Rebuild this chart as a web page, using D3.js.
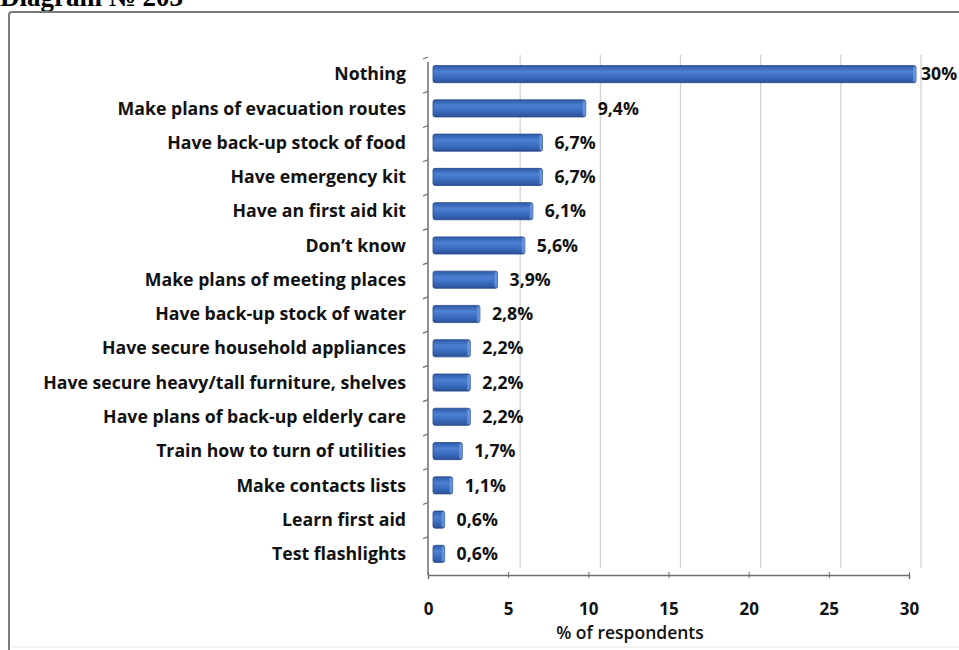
<!DOCTYPE html>
<html>
<head>
<meta charset="utf-8">
<script src="https://cdn.jsdelivr.net/npm/d3@7"></script>
<style>
  body { margin: 0; background: #fff; }
  svg { display: block; }
</style>
</head>
<body>
<svg class="chart" width="959" height="650"></svg>
<script>
const categories = [
  "Nothing",
  "Make plans of evacuation routes",
  "Have back-up stock of food",
  "Have emergency kit",
  "Have an first aid kit",
  "Don\u2019t know",
  "Make plans of meeting places",
  "Have back-up stock of water",
  "Have secure household appliances",
  "Have secure heavy/tall furniture, shelves",
  "Have plans of back-up elderly care",
  "Train how to turn of utilities",
  "Make contacts lists",
  "Learn first aid",
  "Test flashlights"
];
const values = [30, 9.4, 6.7, 6.7, 6.1, 5.6, 3.9, 2.8, 2.2, 2.2, 2.2, 1.7, 1.1, 0.6, 0.6];
const valueLabels = ["30%", "9,4%", "6,7%", "6,7%", "6,1%", "5,6%", "3,9%", "2,8%", "2,2%", "2,2%", "2,2%", "1,7%", "1,1%", "0,6%", "0,6%"];
const xTicks = [0, 5, 10, 15, 20, 25, 30];

const svg = d3.select(".chart");
const font = "'Open Sans', Lato, sans-serif";

// page title, cut at the top like the scan
svg.append("text")
  .attr("x", 0).attr("y", 6)
  .style("font-family", "'Liberation Serif', 'Times New Roman', serif")
  .style("font-weight", "bold")
  .style("font-size", "27px")
  .text("Diagram \u2116 203");

// chart frame
svg.append("rect")
  .attr("x", 9).attr("y", 12)
  .attr("width", 970).attr("height", 660)
  .attr("rx", 3)
  .style("fill", "#fff")
  .style("stroke", "#7a7a7a")
  .style("stroke-width", 2);
svg.append("line")
  .attr("x1", 12).attr("x2", 959).attr("y1", 647).attr("y2", 647)
  .style("stroke", "#e6e6e6");

const x = d3.scaleLinear().domain([0, 30]).range([428, 909]);
const y = d3.scaleBand().domain(categories).range([57, 571]);

const depthX = 12, depthY = -7;
const axisY = 575;

// back wall gridlines
svg.append("g")
  .selectAll("line")
  .data(xTicks.slice(1))
  .enter().append("line")
  .attr("x1", d => x(d) + depthX).attr("x2", d => x(d) + depthX)
  .attr("y1", 55).attr("y2", axisY + depthY)
  .style("stroke", "#cfcfcf")
  .style("stroke-width", 1.2);

// x axis
const xAxis = svg.append("g")
  .attr("transform", `translate(0,${axisY})`)
  .call(d3.axisBottom(x).tickValues(xTicks).tickSize(4).tickPadding(24).tickFormat(d3.format("d")));
xAxis.select(".domain").style("stroke", "#6e6e6e").style("stroke-width", 1.5);
xAxis.selectAll(".tick line").style("stroke", "#6e6e6e").attr("y1", -3).attr("y2", 3);
xAxis.selectAll("text")
  .style("font-family", font)
  .style("font-weight", "bold")
  .style("font-size", "17px")
  .style("fill", "#111");

svg.append("text")
  .attr("x", 630).attr("y", 639)
  .attr("text-anchor", "middle")
  .style("font-family", font)
  .style("font-weight", "600")
  .style("font-size", "17.5px")
  .style("fill", "#111")
  .text("% of respondents");

// y axis line and ticks at band edges
svg.append("line")
  .attr("x1", 428).attr("x2", 428).attr("y1", 62).attr("y2", axisY)
  .style("stroke", "#6e6e6e").style("stroke-width", 1.5);
svg.append("g")
  .selectAll("line")
  .data(categories)
  .enter().append("line")
  .attr("x1", 423).attr("x2", 428)
  .attr("y1", d => y(d) + 2).attr("y2", d => y(d))
  .style("stroke", "#6e6e6e").style("stroke-width", 1.2);

// category labels, sized so the longest one spans the same width as the scan
const labels = svg.append("g")
  .selectAll("text")
  .data(categories)
  .enter().append("text")
  .attr("x", 406)
  .attr("y", d => y(d) + y.bandwidth() / 2)
  .attr("dy", "0.35em")
  .attr("text-anchor", "end")
  .style("font-family", font)
  .style("font-weight", "bold")
  .style("font-size", "16px")
  .style("fill", "#111")
  .text(d => d);

let longest = 0;
labels.each(function () { longest = Math.max(longest, this.getComputedTextLength()); });
const labelSize = Math.min(18, 16 * 363 / longest);
labels.style("font-size", labelSize + "px");

// bar gradient
const defs = svg.append("defs");
const grad = defs.append("linearGradient")
  .attr("id", "barGrad").attr("x1", 0).attr("x2", 0).attr("y1", 0).attr("y2", 1);
grad.append("stop").attr("offset", "0%").attr("stop-color", "#2e5aa6");
grad.append("stop").attr("offset", "35%").attr("stop-color", "#4c80d2");
grad.append("stop").attr("offset", "70%").attr("stop-color", "#3a6abd");
grad.append("stop").attr("offset", "100%").attr("stop-color", "#2a5196");

const barH = y.step() * 0.5;
const data = categories.map((c, i) => ({ cat: c, value: values[i], label: valueLabels[i] }));

const bars = svg.append("g")
  .selectAll("g")
  .data(data)
  .enter().append("g");

bars.append("rect")
  .attr("x", x(0) + 5)
  .attr("y", d => y(d.cat) + y.bandwidth() / 2 - barH / 2)
  .attr("width", d => x(d.value) + 7 - (x(0) + 5))
  .attr("height", barH)
  .attr("rx", 2)
  .style("fill", "url(#barGrad)")
  .style("stroke", "#2a4a86")
  .style("stroke-width", 0.8);

bars.append("rect")
  .attr("x", d => x(d.value) + 4)
  .attr("y", d => y(d.cat) + y.bandwidth() / 2 - barH / 2 + 1)
  .attr("width", 3)
  .attr("height", barH - 2)
  .style("fill", "#6f9ae0")
  .style("opacity", 0.8);

// value labels; the last one runs into the page edge as in the scan
bars.append("text")
  .attr("x", d => Math.min(x(d.value) + 19, 921))
  .attr("y", d => y(d.cat) + y.bandwidth() / 2)
  .attr("dy", "0.35em")
  .style("font-family", font)
  .style("font-weight", "bold")
  .style("font-size", labelSize + "px")
  .style("fill", "#111")
  .text(d => d.label);
</script>
</body>
</html>
